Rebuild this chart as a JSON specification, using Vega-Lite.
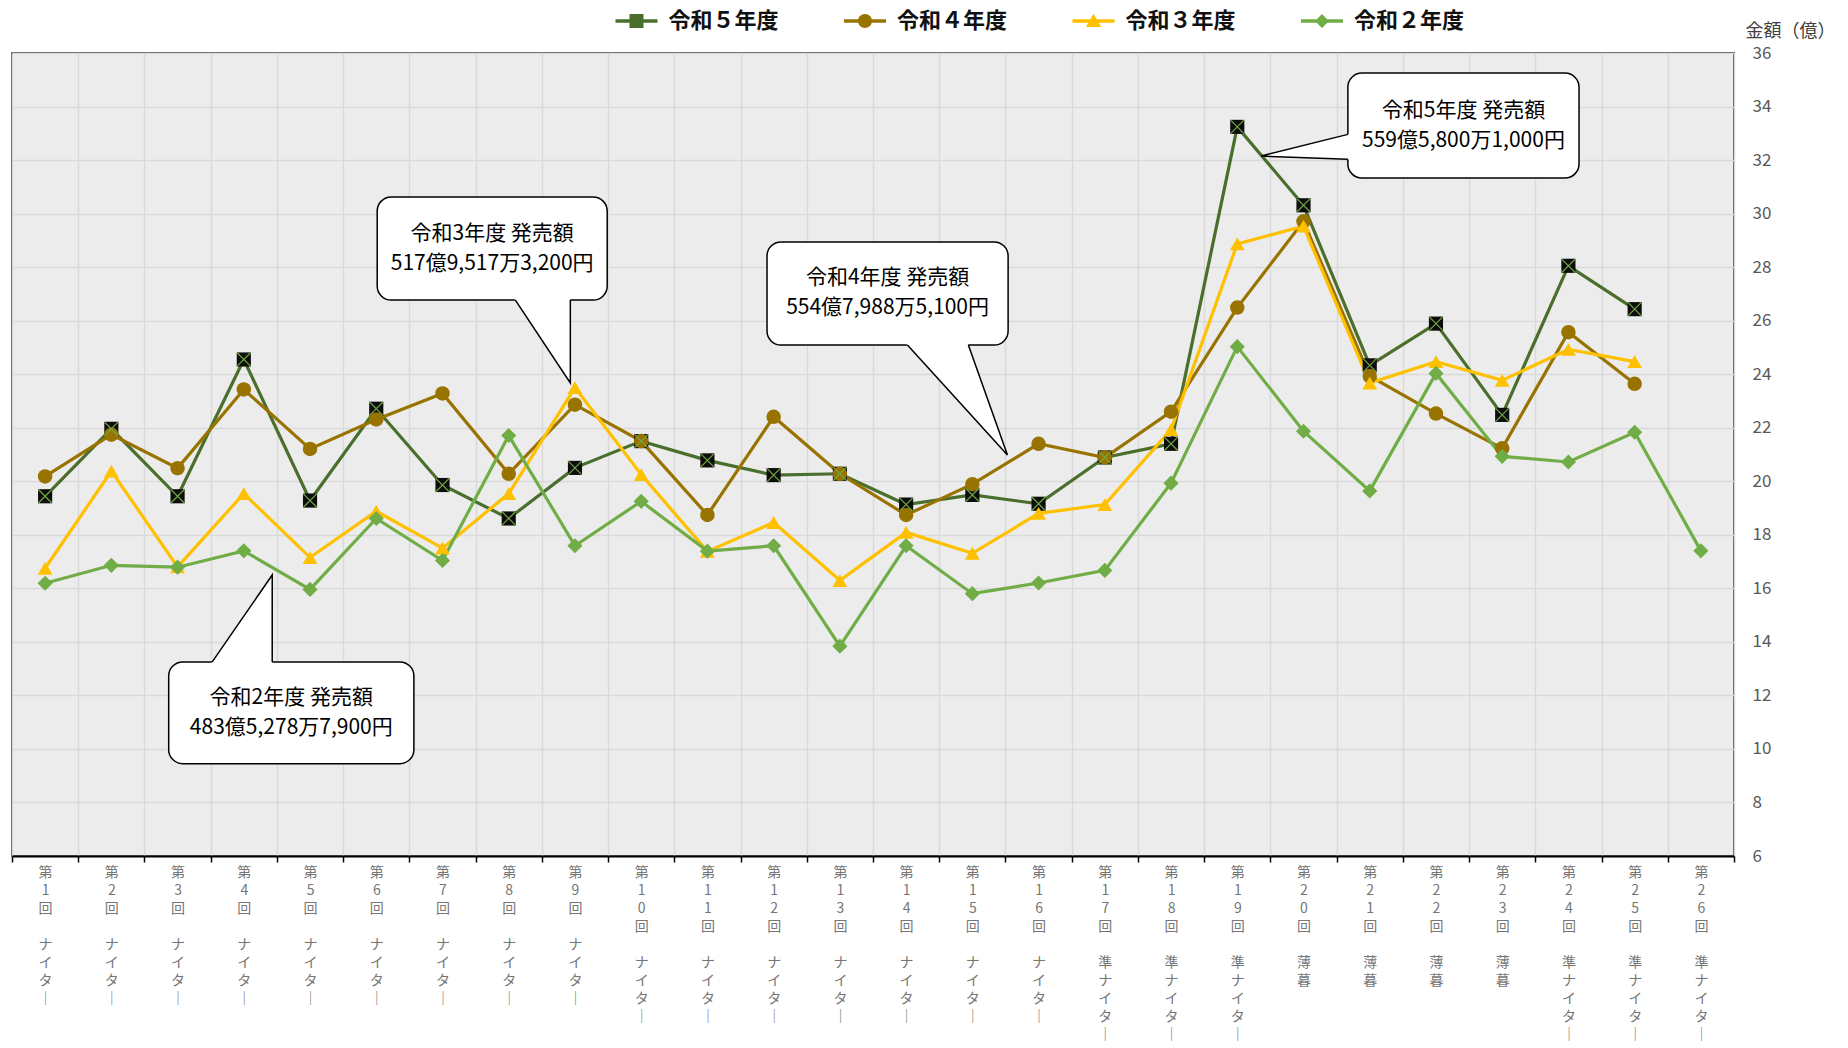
{
  "$schema": "https://vega.github.io/schema/vega-lite/v6.json",
  "width": 1722,
  "height": 803,
  "autosize": {"type": "none"},
  "padding": {"left": 12, "top": 53, "right": 114, "bottom": 192},
  "background": "white",
  "view": {"fill": "#ECECEC", "stroke": "#1a1a1a", "strokeWidth": 1.5},
  "config": {
    "view": {"fill": "#ECECEC", "stroke": "#1a1a1a", "strokeWidth": 1.5},
    "font": "Noto Sans CJK JP",
    "axis": {"labelFont": "Noto Sans CJK JP", "titleFont": "Noto Sans CJK JP"},
    "legend": {"labelFont": "Noto Sans CJK JP"},
    "text": {"font": "Noto Sans CJK JP"}
  },
  "datasets": {
    "races": [
      {"n": 1, "race": "第1回 ナイター", "令和５年度": 19.44, "令和４年度": 20.18, "令和３年度": 16.75, "令和２年度": 16.19},
      {"n": 2, "race": "第2回 ナイター", "令和５年度": 21.96, "令和４年度": 21.74, "令和３年度": 20.38, "令和２年度": 16.86},
      {"n": 3, "race": "第3回 ナイター", "令和５年度": 19.44, "令和４年度": 20.49, "令和３年度": 16.8, "令和２年度": 16.79},
      {"n": 4, "race": "第4回 ナイター", "令和５年度": 24.55, "令和４年度": 23.43, "令和３年度": 19.54, "令和２年度": 17.4},
      {"n": 5, "race": "第5回 ナイター", "令和５年度": 19.28, "令和４年度": 21.21, "令和３年度": 17.15, "令和２年度": 15.96},
      {"n": 6, "race": "第6回 ナイター", "令和５年度": 22.71, "令和４年度": 22.31, "令和３年度": 18.88, "令和２年度": 18.61},
      {"n": 7, "race": "第7回 ナイター", "令和５年度": 19.86, "令和４年度": 23.28, "令和３年度": 17.5, "令和２年度": 17.04},
      {"n": 8, "race": "第8回 ナイター", "令和５年度": 18.61, "令和４年度": 20.28, "令和３年度": 19.54, "令和２年度": 21.71},
      {"n": 9, "race": "第9回 ナイター", "令和５年度": 20.5, "令和４年度": 22.86, "令和３年度": 23.5, "令和２年度": 17.59},
      {"n": 10, "race": "第10回 ナイター", "令和５年度": 21.5, "令和４年度": 21.5, "令和３年度": 20.25, "令和２年度": 19.25},
      {"n": 11, "race": "第11回 ナイター", "令和５年度": 20.78, "令和４年度": 18.74, "令和３年度": 17.38, "令和２年度": 17.39},
      {"n": 12, "race": "第12回 ナイター", "令和５年度": 20.23, "令和４年度": 22.41, "令和３年度": 18.46, "令和２年度": 17.59},
      {"n": 13, "race": "第13回 ナイター", "令和５年度": 20.28, "令和４年度": 20.28, "令和３年度": 16.29, "令和２年度": 13.84},
      {"n": 14, "race": "第14回 ナイター", "令和５年度": 19.13, "令和４年度": 18.74, "令和３年度": 18.09, "令和２年度": 17.59},
      {"n": 15, "race": "第15回 ナイター", "令和５年度": 19.49, "令和４年度": 19.89, "令和３年度": 17.31, "令和２年度": 15.8},
      {"n": 16, "race": "第16回 ナイター", "令和５年度": 19.16, "令和４年度": 21.4, "令和３年度": 18.8, "令和２年度": 16.2},
      {"n": 17, "race": "第17回 準ナイター", "令和５年度": 20.89, "令和４年度": 20.89, "令和３年度": 19.13, "令和２年度": 16.67},
      {"n": 18, "race": "第18回 準ナイター", "令和５年度": 21.4, "令和４年度": 22.6, "令和３年度": 21.93, "令和２年度": 19.93},
      {"n": 19, "race": "第19回 準ナイター", "令和５年度": 33.24, "令和４年度": 26.49, "令和３年度": 28.87, "令和２年度": 25.03},
      {"n": 20, "race": "第20回 薄暮", "令和５年度": 30.31, "令和４年度": 29.71, "令和３年度": 29.53, "令和２年度": 21.87},
      {"n": 21, "race": "第21回 薄暮", "令和５年度": 24.33, "令和４年度": 23.93, "令和３年度": 23.67, "令和２年度": 19.64},
      {"n": 22, "race": "第22回 薄暮", "令和５年度": 25.89, "令和４年度": 22.53, "令和３年度": 24.47, "令和２年度": 24.03},
      {"n": 23, "race": "第23回 薄暮", "令和５年度": 22.48, "令和４年度": 21.23, "令和３年度": 23.77, "令和２年度": 20.93},
      {"n": 24, "race": "第24回 準ナイター", "令和５年度": 28.05, "令和４年度": 25.57, "令和３年度": 24.93, "令和２年度": 20.72},
      {"n": 25, "race": "第25回 準ナイター", "令和５年度": 26.43, "令和４年度": 23.64, "令和３年度": 24.47, "令和２年度": 21.83},
      {"n": 26, "race": "第26回 準ナイター", "令和５年度": null, "令和４年度": null, "令和３年度": null, "令和２年度": 17.4}
    ],
    "boxes": [
      {"id": "r3", "x1": 5.514, "x2": 8.987, "y1": 30.62, "y2": 26.77, "cx": 7.25, "cy": 28.69, "label": "令和3年度 発売額\n517億9,517万3,200円"},
      {"id": "r4", "x1": 11.40, "x2": 15.04, "y1": 28.94, "y2": 25.09, "cx": 13.22, "cy": 27.02, "label": "令和4年度 発売額\n554億7,988万5,100円"},
      {"id": "r5", "x1": 20.17, "x2": 23.66, "y1": 35.25, "y2": 31.33, "cx": 21.915, "cy": 33.29, "label": "令和5年度 発売額\n559億5,800万1,000円"},
      {"id": "r2", "x1": 2.366, "x2": 6.068, "y1": 13.25, "y2": 9.45, "cx": 4.217, "cy": 11.35, "label": "令和2年度 発売額\n483億5,278万7,900円"}
    ],
    "tails": [
      {"id": "r3", "k": 1, "x": 7.60, "y": 26.77, "xi": 7.56, "yi": 26.92},
      {"id": "r3", "k": 2, "x": 8.43, "y": 23.67, "xi": 8.43, "yi": 23.67},
      {"id": "r3", "k": 3, "x": 8.43, "y": 26.77, "xi": 8.43, "yi": 26.92},
      {"id": "r4", "k": 1, "x": 13.52, "y": 25.09, "xi": 13.465, "yi": 25.24},
      {"id": "r4", "k": 2, "x": 15.03, "y": 20.98, "xi": 15.03, "yi": 20.98},
      {"id": "r4", "k": 3, "x": 14.44, "y": 25.09, "xi": 14.42, "yi": 25.24},
      {"id": "r5", "k": 1, "x": 20.17, "y": 32.96, "xi": 20.23, "yi": 33.0},
      {"id": "r5", "k": 2, "x": 18.86, "y": 32.15, "xi": 18.86, "yi": 32.15},
      {"id": "r5", "k": 3, "x": 20.17, "y": 32.03, "xi": 20.23, "yi": 32.025},
      {"id": "r2", "k": 1, "x": 3.023, "y": 13.25, "xi": 2.981, "yi": 13.10},
      {"id": "r2", "k": 2, "x": 3.929, "y": 16.50, "xi": 3.929, "yi": 16.50},
      {"id": "r2", "k": 3, "x": 3.929, "y": 13.25, "xi": 3.929, "yi": 13.10}
    ]
  },
  "layer": [
    {
      "data": {"name": "races"},
      "transform": [{"fold": ["令和５年度", "令和４年度", "令和３年度", "令和２年度"], "as": ["series", "value"]}],
      "resolve": {"scale": {"color": "independent", "shape": "independent", "size": "independent"}},
      "layer": [
        {
          "mark": {"type": "line", "strokeWidth": 3.2},
          "encoding": {
            "x": {
              "field": "race", "type": "nominal", "sort": null,
              "scale": {"type": "band", "paddingInner": 0, "paddingOuter": 0},
              "axis": {
                "title": null, "orient": "bottom", "tickBand": "extent",
                "grid": true, "gridColor": "#D9D9D9", "gridWidth": 1.5,
                "domain": true, "domainColor": "#000000", "domainWidth": 2,
                "ticks": true, "tickColor": "#000000", "tickWidth": 1.5, "tickSize": 6,
                "labelAngle": 0, "labelAlign": "center", "labelBaseline": "top", "labelPadding": 3,
                "labelExpr": "split(replace(replace(datum.label, 'ー', '｜'), ' ', '\u200b'), '')",
                "labelLineHeight": 18.1, "labelFontSize": 14, "labelColor": "#767676",
                "labelOverlap": false, "labelLimit": 0
              }
            },
            "y": {
              "field": "value", "type": "quantitative",
              "scale": {"domain": [6, 36], "nice": false, "zero": false},
              "axis": {
                "orient": "right", "title": "金額（億）",
                "values": [6, 8, 10, 12, 14, 16, 18, 20, 22, 24, 26, 28, 30, 32, 34, 36],
                "grid": true, "gridColor": "#D9D9D9", "gridWidth": 1.5,
                "domain": false, "ticks": false, "tickSize": 0, "labelPadding": 18,
                "labelFontSize": 17, "labelColor": "#595959",
                "titleAngle": 0, "titleX": 56, "titleY": -22, "titleAlign": "center", "titleBaseline": "middle",
                "titleFontSize": 18, "titleFontWeight": "normal", "titleColor": "#404040"
              }
            },
            "color": {
              "field": "series", "type": "nominal",
              "scale": {"domain": ["令和５年度", "令和４年度", "令和３年度", "令和２年度"], "range": ["#4A6F2C", "#997300", "#FFC000", "#70AD47"]},
              "legend": null
            },
            "order": {"field": "n", "type": "quantitative"}
          }
        },
        {
          "mark": {"type": "point", "filled": true, "opacity": 1},
          "encoding": {
            "x": {"field": "race", "type": "nominal", "sort": null, "scale": {"type": "band", "paddingInner": 0, "paddingOuter": 0}},
            "y": {"field": "value", "type": "quantitative", "scale": {"domain": [6, 36], "nice": false, "zero": false}},
            "color": {
              "field": "series", "type": "nominal",
              "scale": {"domain": ["令和５年度", "令和４年度", "令和３年度", "令和２年度"], "range": ["#0D0D0D", "#997300", "#FFC000", "#70AD47"]},
              "legend": null
            },
            "shape": {
              "field": "series", "type": "nominal",
              "scale": {"domain": ["令和５年度", "令和４年度", "令和３年度", "令和２年度"], "range": ["square", "circle", "triangle-up", "diamond"]},
              "legend": null
            },
            "size": {
              "field": "series", "type": "ordinal",
              "scale": {"domain": ["令和５年度", "令和４年度", "令和３年度", "令和２年度"], "range": [200, 230, 240, 170]},
              "legend": null
            }
          }
        },
        {
          "transform": [{"filter": "datum.series === '令和５年度'"}],
          "mark": {"type": "point", "shape": "M-1,-1L1,1M1,-1L-1,1", "filled": false, "color": "#6FA843", "stroke": "#6FA843", "strokeWidth": 1.2, "size": 180, "opacity": 1},
          "encoding": {
            "x": {"field": "race", "type": "nominal", "sort": null, "scale": {"type": "band", "paddingInner": 0, "paddingOuter": 0}},
            "y": {"field": "value", "type": "quantitative", "scale": {"domain": [6, 36], "nice": false, "zero": false}}
          }
        },
        {
          "transform": [{"filter": "false"}],
          "mark": {"type": "point", "filled": true, "opacity": 1, "size": 196},
          "encoding": {
            "color": {
              "field": "series", "type": "nominal",
              "scale": {"domain": ["令和５年度", "令和４年度", "令和３年度", "令和２年度"], "range": ["#4A6F2C", "#997300", "#FFC000", "#70AD47"]},
              "legend": {"title": null, "orient": "none", "legendX": 613.5, "legendY": -43, "direction": "horizontal", "symbolSize": 196, "labelOffset": 21, "columnPadding": 64.5, "labelFontSize": 22, "labelFontWeight": "bold", "labelColor": "#111111", "symbolStrokeWidth": 0, "padding": 0, "labelLimit": 300}
            },
            "shape": {
              "field": "series", "type": "nominal",
              "scale": {"domain": ["令和５年度", "令和４年度", "令和３年度", "令和２年度"], "range": [
                "M-3,-0.25H3V0.25H-3Z M-1,-1H1V1H-1Z",
                "M-3,-0.25H3V0.25H-3Z M-1,0A1,1 0 1 1 1,0A1,1 0 1 1 -1,0Z",
                "M-3,-0.25H3V0.25H-3Z M0,-1.05L1.1,0.85H-1.1Z",
                "M-3,-0.25H3V0.25H-3Z M0,-1L1,0L0,1L-1,0Z"
              ]},
              "legend": {"title": null, "orient": "none", "legendX": 613.5, "legendY": -43, "direction": "horizontal", "symbolSize": 196, "labelOffset": 21, "columnPadding": 64.5, "labelFontSize": 22, "labelFontWeight": "bold", "labelColor": "#111111", "symbolStrokeWidth": 0, "padding": 0, "labelLimit": 300}
            }
          }
        }
      ]
    },
    {
      "layer": [
        {
          "data": {"name": "boxes"},
          "mark": {"type": "rect", "fill": "white", "stroke": "#000000", "strokeWidth": 1.5, "cornerRadius": 14},
          "encoding": {
            "x": {"field": "x1", "type": "quantitative", "scale": {"domain": [0, 26], "nice": false, "zero": false}, "axis": null},
            "x2": {"field": "x2"},
            "y": {"field": "y1", "type": "quantitative", "scale": {"domain": [6, 36], "nice": false, "zero": false}},
            "y2": {"field": "y2"}
          }
        },
        {
          "data": {"name": "tails"},
          "mark": {"type": "line", "fill": "white", "strokeWidth": 0, "strokeOpacity": 0},
          "encoding": {
            "x": {"field": "xi", "type": "quantitative", "scale": {"domain": [0, 26], "nice": false, "zero": false}, "axis": null},
            "y": {"field": "yi", "type": "quantitative", "scale": {"domain": [6, 36], "nice": false, "zero": false}},
            "detail": {"field": "id", "type": "nominal"},
            "order": {"field": "k", "type": "quantitative"}
          }
        },
        {
          "data": {"name": "tails"},
          "mark": {"type": "line", "stroke": "#000000", "color": "#000000", "strokeWidth": 1.5},
          "encoding": {
            "x": {"field": "x", "type": "quantitative", "scale": {"domain": [0, 26], "nice": false, "zero": false}, "axis": null},
            "y": {"field": "y", "type": "quantitative", "scale": {"domain": [6, 36], "nice": false, "zero": false}},
            "detail": {"field": "id", "type": "nominal"},
            "order": {"field": "k", "type": "quantitative"}
          }
        },
        {
          "data": {"name": "boxes"},
          "mark": {"type": "text", "lineBreak": "\n", "fontSize": 21, "lineHeight": 30, "align": "center", "baseline": "middle", "dy": -15, "color": "#000000"},
          "encoding": {
            "x": {"field": "cx", "type": "quantitative", "scale": {"domain": [0, 26], "nice": false, "zero": false}, "axis": null},
            "y": {"field": "cy", "type": "quantitative", "scale": {"domain": [6, 36], "nice": false, "zero": false}},
            "text": {"field": "label", "type": "nominal"}
          }
        }
      ]
    }
  ],
  "resolve": {"scale": {"x": "independent"}}
}
